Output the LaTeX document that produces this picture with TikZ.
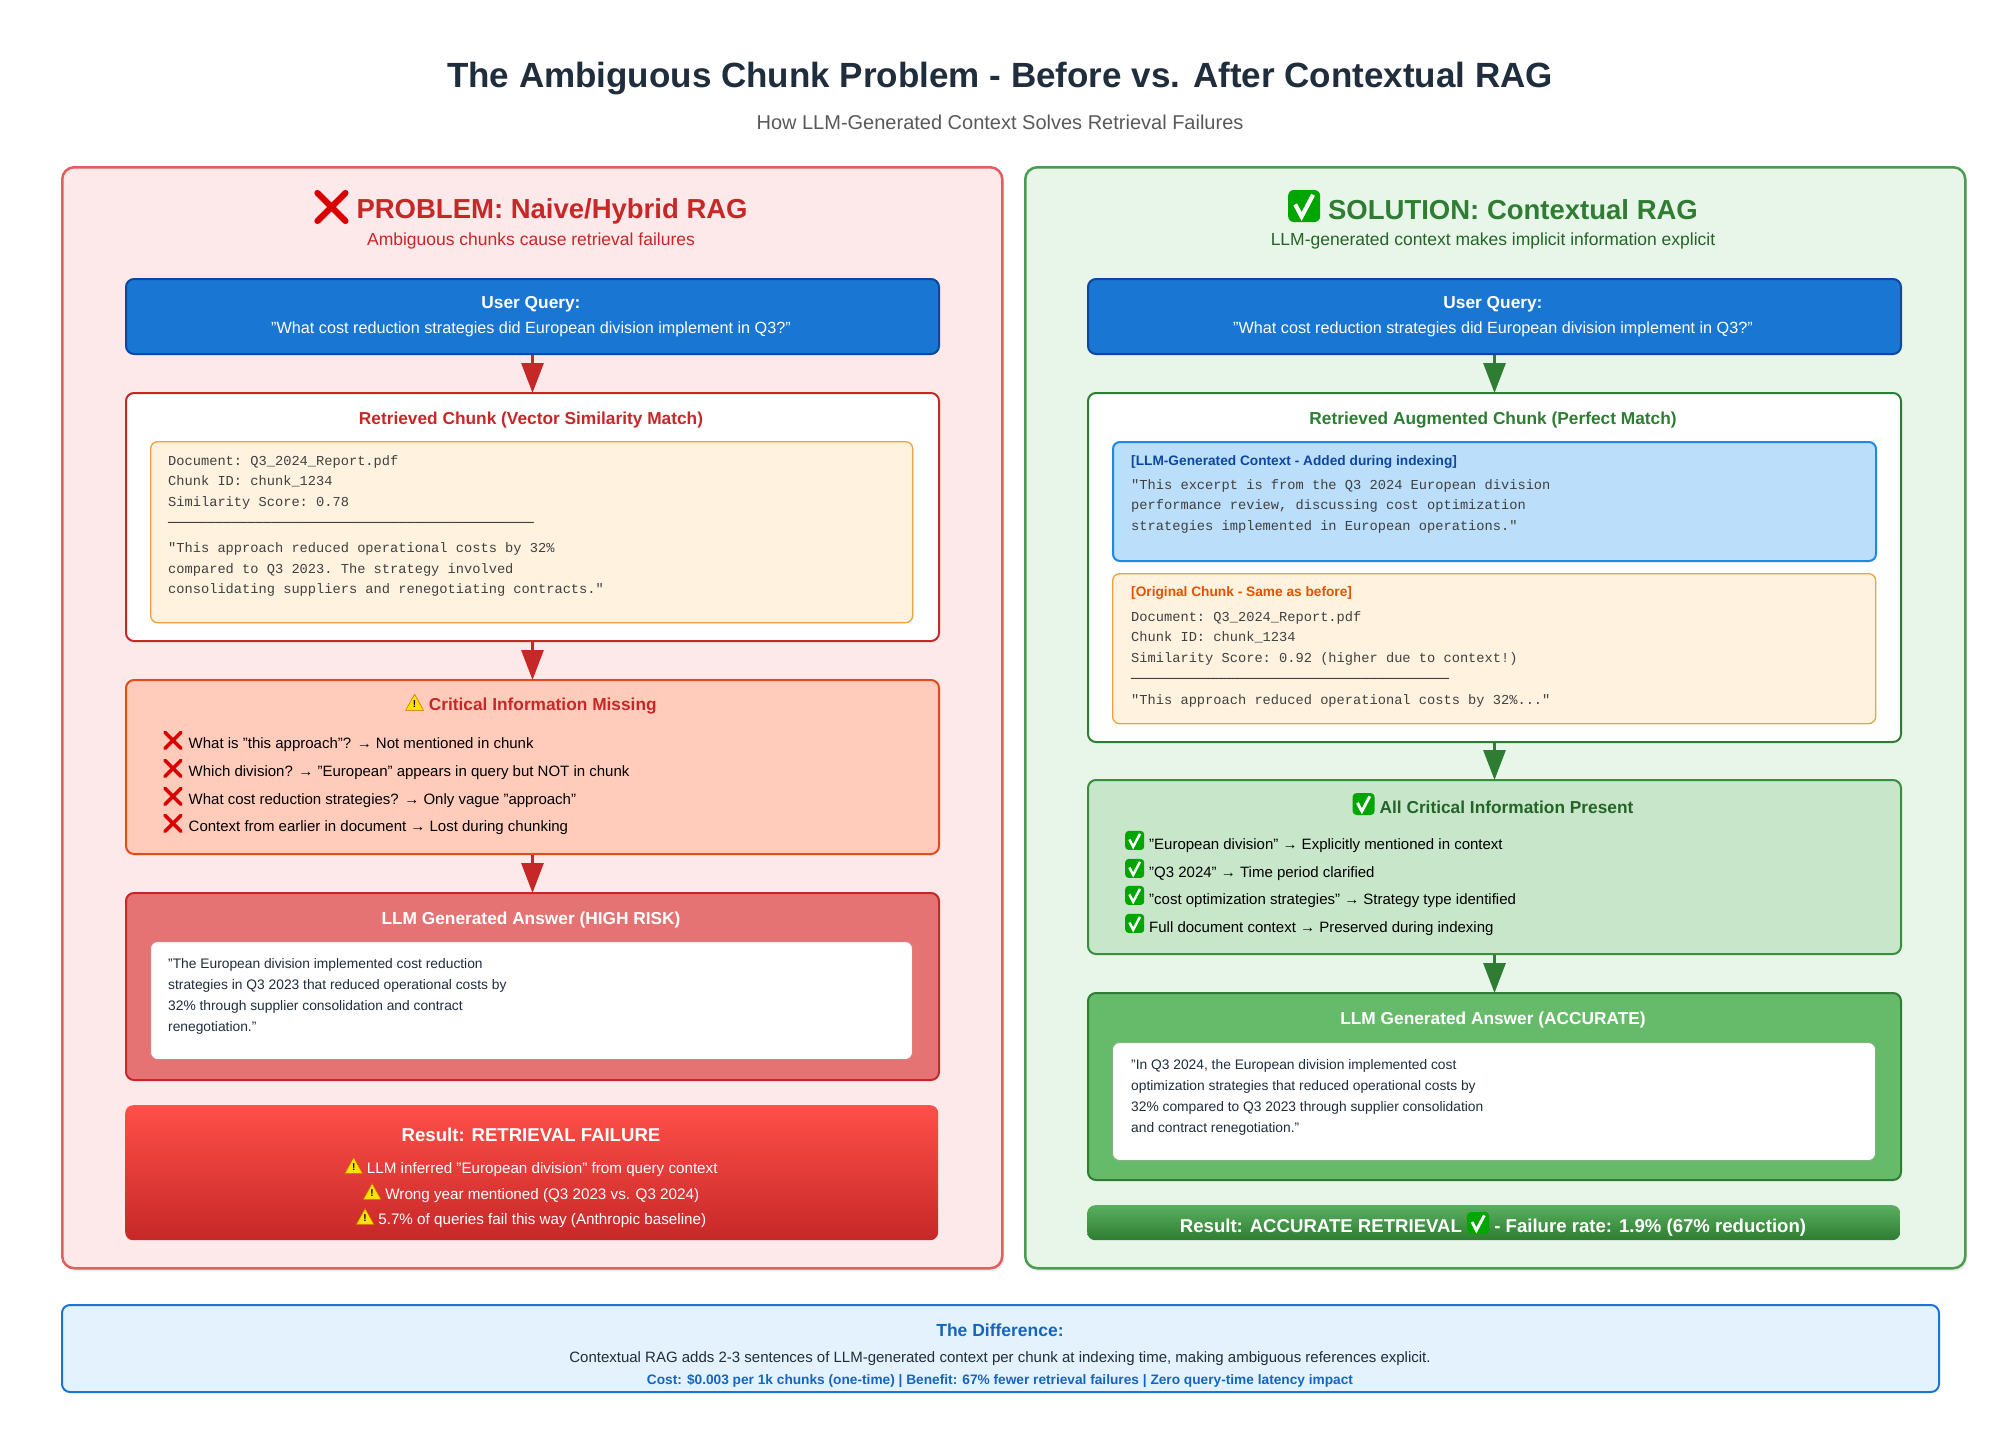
\documentclass[tikz,border=0pt]{standalone}
\usepackage{fontspec}
\setmainfont{Liberation Sans}
\setmonofont{Liberation Mono}
\newfontfamily\dejamono{DejaVu Sans Mono}
\usetikzlibrary{positioning, arrows.meta, shadows}

\definecolor{inkdark}{HTML}{1F2D3D}
\definecolor{probred}{HTML}{C62828}
\definecolor{probfill}{HTML}{FDE8EA}
\definecolor{probline}{HTML}{E06060}
\definecolor{solgreen}{HTML}{2E7D32}
\definecolor{solfill}{HTML}{E8F5E9}
\definecolor{solline}{HTML}{4E9A52}
\definecolor{qblue}{HTML}{1976D2}
\definecolor{qdark}{HTML}{0D47A1}
\definecolor{chunkfill}{HTML}{FFF3E0}
\definecolor{chunkline}{HTML}{F0A040}
\definecolor{missfill}{HTML}{FFCCBC}
\definecolor{missline}{HTML}{E64A19}
\definecolor{ctxfill}{HTML}{BBDEFB}
\definecolor{ctxline}{HTML}{1E88E5}
\definecolor{presfill}{HTML}{C8E6C9}
\definecolor{presline}{HTML}{388E3C}
\definecolor{diffill}{HTML}{E3F2FD}
\definecolor{diftitle}{HTML}{1565C0}
\definecolor{orangetxt}{HTML}{E65100}
\definecolor{ansred}{HTML}{E57373}
\definecolor{ansgreen}{HTML}{66BB6A}

% small inline icons
\newcommand{\xmark}[1]{\tikz[x=1pt,y=1pt,baseline=0pt]{\draw[red!85!black, line width=0.22*#1pt, line cap=round] (0,0) -- (#1,#1) (0,#1) -- (#1,0);}}
\newcommand{\okbox}[1]{\tikz[x=1pt,y=1pt,baseline=-0.15*#1pt]{\fill[green!65!black, rounded corners=0.18*#1pt] (0,-0.15*#1) rectangle (#1,0.85*#1); \draw[white, line width=0.13*#1pt] (0.22*#1,0.4*#1) -- (0.42*#1,0.02*#1) -- (0.78*#1,0.7*#1);}}
\newcommand{\warnmark}[1]{\tikz[x=1pt,y=1pt,baseline=0pt]{\fill[yellow!85!orange, draw=orange!80!black, line width=0.5pt, line join=round] (0,0) -- (#1,0) -- (0.5*#1,0.9*#1) -- cycle; \node[inner sep=0pt, text=black, font=\bfseries\fontsize{10}{10}\selectfont] at (0.5*#1,0.35*#1) {!};}}

\tikzset{
    panel/.style={draw, line width=2.5pt, rounded corners=12pt, anchor=north west, drop shadow={opacity=0.15, shadow xshift=2pt, shadow yshift=-3pt}},
    box/.style={draw, line width=2pt, rounded corners=8pt, anchor=north west},
    inner/.style={draw, line width=1.3pt, rounded corners=7pt, anchor=north west},
    body/.style={font=\fontsize{15}{28}\selectfont, inner sep=0pt, anchor=west},
    mono/.style={font=\ttfamily\fontsize{13.7}{20.8}\selectfont, inner sep=0pt, anchor=north west, align=left},
    answer/.style={font=\fontsize{13.8}{21}\selectfont, inner sep=0pt, anchor=north west, align=left, text=inkdark},
    head/.style={font=\bfseries\fontsize{17.3}{20}\selectfont, inner sep=0pt},
    query/.style={font=\fontsize{16.2}{20}\selectfont, text=white},
    resline/.style={font=\fontsize{15.2}{18}\selectfont, text=white},
    tag/.style={font=\bfseries\fontsize{13.7}{16}\selectfont, anchor=west, inner sep=0pt},
    flow/.style={-{Triangle[width=22pt, length=30pt]}, line width=3pt, shorten >=-1pt},
}

\begin{document}
\begin{tikzpicture}[x=1pt, y=-1pt]
\useasboundingbox (0,0) rectangle (2000,1456);
\fill[white] (0,0) rectangle (2000,1456);

% title
\node[font=\bfseries\fontsize{35}{40}\selectfont, text=inkdark] (title) at (1000,79) {The Ambiguous Chunk Problem - Before vs. After Contextual RAG};
\node[font=\fontsize{20}{24}\selectfont, text=black!65] (subtitle) at (1000,122) {How LLM-Generated Context Solves Retrieval Failures};

% panels
\node[panel, draw=probline, fill=probfill, minimum width=940pt, minimum height=1101pt] (left) at (61,166) {};
\node[panel, draw=solline, fill=solfill, minimum width=940pt, minimum height=1101pt] (right) at (1024,166) {};

% ---- problem side ----
\node[font=\bfseries\fontsize{27.5}{32}\selectfont, text=probred] (lhead) at (531,207) {\raisebox{-3pt}{\xmark{28}}\hspace{8pt}PROBLEM: Naive/Hybrid RAG};
\node[font=\fontsize{17.5}{20}\selectfont, text=probred] (lsub) at (531,241) {Ambiguous chunks cause retrieval failures};

\node[box, draw=qdark, fill=qblue, minimum width=813pt, minimum height=75pt] (lquery) at (125,278) {};
\node[head, text=white] at (531,304) {User Query:};
\node[query] at (531,329) {"What cost reduction strategies did European division implement in Q3?"};

\node[box, draw=probred, fill=white, minimum width=813pt, minimum height=248pt] (lchunk) at (125,392) {};
\node[head, text=probred] at (531,420) {Retrieved Chunk (Vector Similarity Match)};
\node[inner, draw=chunkline, fill=chunkfill, minimum width=762pt, minimum height=181pt] (lraw) at (150,441) {};
\node[mono, text=black!75] at (168,455) {Document: Q3\_2024\_Report.pdf\\Chunk ID: chunk\_1234\\Similarity Score: 0.78\\{\dejamono\fontsize{13.2}{20}\selectfont ──────────────────────────────────────────────}\\[4pt]"This approach reduced operational costs by 32\%\\compared to Q3 2023. The strategy involved\\consolidating suppliers and renegotiating contracts."};

\node[box, draw=missline, fill=missfill, minimum width=813pt, minimum height=174pt] (lmiss) at (125,679) {};
\node[head, text=probred] at (531,704) {\warnmark{18}\hspace{5pt}Critical Information Missing};
\node[body] at (163,741) {\xmark{16}\hspace{6pt}What is "this approach"? → Not mentioned in chunk};
\node[body] at (163,769) {\xmark{16}\hspace{6pt}Which division? → "European" appears in query but NOT in chunk};
\node[body] at (163,797) {\xmark{16}\hspace{6pt}What cost reduction strategies? → Only vague "approach"};
\node[body] at (163,824) {\xmark{16}\hspace{6pt}Context from earlier in document → Lost during chunking};

\node[box, draw=probred, fill=ansred, minimum width=813pt, minimum height=187pt] (lans) at (125,892) {};
\node[head, text=white] at (531,920) {LLM Generated Answer (HIGH RISK)};
\node[inner, draw=probred!60, fill=white, line width=1pt, minimum width=762pt, minimum height=118pt] (lanstext) at (150,941) {};
\node[answer] at (168,958) {"The European division implemented cost reduction\\strategies in Q3 2023 that reduced operational costs by\\32\% through supplier consolidation and contract\\renegotiation."};

\node[anchor=north west, rounded corners=8pt, top color=red!70!white!95!orange, bottom color=probred, minimum width=813pt, minimum height=135pt] (lres) at (125,1105) {};
\node[font=\bfseries\fontsize{18.6}{22}\selectfont, text=white] at (531,1135) {Result: RETRIEVAL FAILURE};
\node[resline] at (531,1167) {\warnmark{18}\hspace{4pt}LLM inferred "European division" from query context};
\node[resline] at (531,1193) {\warnmark{18}\hspace{4pt}Wrong year mentioned (Q3 2023 vs. Q3 2024)};
\node[resline] at (531,1218) {\warnmark{18}\hspace{4pt}5.7\% of queries fail this way (Anthropic baseline)};

\draw[flow, probred] (lquery.south) -- (lchunk.north);
\draw[flow, probred] (lchunk.south) -- (lmiss.north);
\draw[flow, probred] (lmiss.south) -- (lans.north);

% ---- solution side ----
\node[font=\bfseries\fontsize{27.5}{32}\selectfont, text=solgreen] (rhead) at (1493,206) {\raisebox{-3pt}{\okbox{32}}\hspace{8pt}SOLUTION: Contextual RAG};
\node[font=\fontsize{17.5}{20}\selectfont, text=solgreen!80!black] (rsub) at (1493,241) {LLM-generated context makes implicit information explicit};

\node[box, draw=qdark, fill=qblue, minimum width=813pt, minimum height=75pt] (rquery) at (1087,278) {};
\node[head, text=white] at (1493,304) {User Query:};
\node[query] at (1493,329) {"What cost reduction strategies did European division implement in Q3?"};

\node[box, draw=solgreen, fill=white, minimum width=813pt, minimum height=349pt] (rchunk) at (1087,392) {};
\node[head, text=solgreen] at (1493,420) {Retrieved Augmented Chunk (Perfect Match)};
\node[inner, draw=ctxline, fill=ctxfill, line width=2pt, minimum width=763pt, minimum height=119pt] (rctx) at (1112,441) {};
\node[tag, text=qdark] at (1131,462) {[LLM-Generated Context - Added during indexing]};
\node[mono, text=black!75] at (1131,479) {"This excerpt is from the Q3 2024 European division\\performance review, discussing cost optimization\\strategies implemented in European operations."};
\node[inner, draw=chunkline, fill=chunkfill, minimum width=763pt, minimum height=150pt] (rraw) at (1112,573) {};
\node[tag, text=orangetxt] at (1131,593) {[Original Chunk - Same as before]};
\node[mono, text=black!75] at (1131,611) {Document: Q3\_2024\_Report.pdf\\Chunk ID: chunk\_1234\\Similarity Score: 0.92 (higher due to context!)\\{\dejamono\fontsize{13.2}{20}\selectfont ────────────────────────────────────────}\\"This approach reduced operational costs by 32\%..."};

\node[box, draw=presline, fill=presfill, minimum width=813pt, minimum height=174pt] (rpres) at (1087,779) {};
\node[head, text=solgreen!80!black] at (1493,804) {\raisebox{-2pt}{\okbox{22}}\hspace{5pt}All Critical Information Present};
\node[body] at (1125,842) {\okbox{19}\hspace{5pt}"European division" → Explicitly mentioned in context};
\node[body] at (1125,870) {\okbox{19}\hspace{5pt}"Q3 2024" → Time period clarified};
\node[body] at (1125,897) {\okbox{19}\hspace{5pt}"cost optimization strategies" → Strategy type identified};
\node[body] at (1125,925) {\okbox{19}\hspace{5pt}Full document context → Preserved during indexing};

\node[box, draw=solgreen, fill=ansgreen, minimum width=813pt, minimum height=187pt] (rans) at (1087,992) {};
\node[head, text=white] at (1493,1020) {LLM Generated Answer (ACCURATE)};
\node[inner, draw=solgreen!60, fill=white, line width=1pt, minimum width=763pt, minimum height=118pt] (ranstext) at (1112,1042) {};
\node[answer] at (1131,1059) {"In Q3 2024, the European division implemented cost\\optimization strategies that reduced operational costs by\\32\% compared to Q3 2023 through supplier consolidation\\and contract renegotiation."};

\node[anchor=north west, rounded corners=8pt, top color=ansgreen!80!solgreen, bottom color=solgreen, minimum width=813pt, minimum height=35pt] (rres) at (1087,1205) {};
\node[font=\bfseries\fontsize{18.6}{22}\selectfont, text=white] at (1493,1224) {Result: ACCURATE RETRIEVAL \raisebox{-2pt}{\okbox{22}} - Failure rate: 1.9\% (67\% reduction)};

\draw[flow, solgreen] (rquery.south) -- (rchunk.north);
\draw[flow, solgreen] (rchunk.south) -- (rpres.north);
\draw[flow, solgreen] (rpres.south) -- (rans.north);

% ---- bottom note ----
\node[box, draw=qblue, fill=diffill, minimum width=1877pt, minimum height=87pt] (diff) at (61,1304) {};
\node[font=\bfseries\fontsize{17.5}{20}\selectfont, text=diftitle] at (1000,1330) {The Difference:};
\node[font=\fontsize{15}{18}\selectfont, text=inkdark] at (1000,1359) {Contextual RAG adds 2-3 sentences of LLM-generated context per chunk at indexing time, making ambiguous references explicit.};
\node[font=\bfseries\fontsize{13.7}{16}\selectfont, text=diftitle] at (1000,1381) {Cost: \$0.003 per 1k chunks (one-time) | Benefit: 67\% fewer retrieval failures | Zero query-time latency impact};
\end{tikzpicture}
\end{document}
